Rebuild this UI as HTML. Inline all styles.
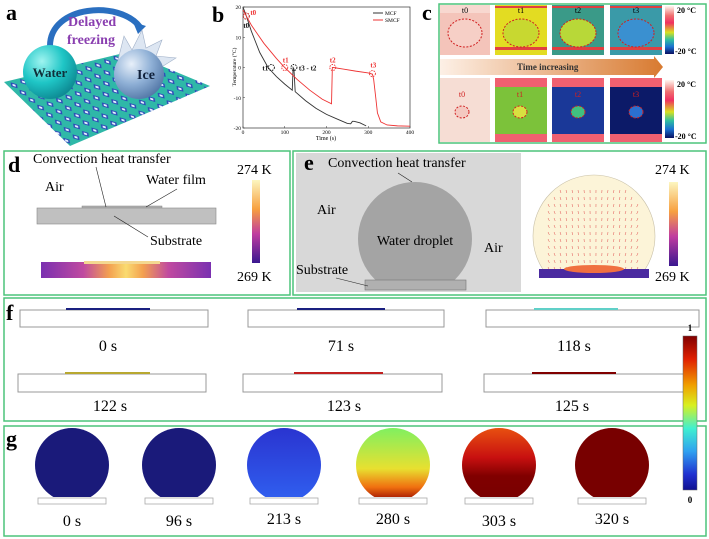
<!DOCTYPE html>
<html><head><meta charset="utf-8"><style>
html,body{margin:0;padding:0;background:#fff}
svg{display:block}
text{font-family:"Liberation Serif",serif}
</style></head><body>
<svg id="fig" width="709" height="539" viewBox="0 0 709 539" xmlns="http://www.w3.org/2000/svg">
<defs>
<pattern id="surf" width="10" height="10" patternUnits="userSpaceOnUse" patternTransform="rotate(-20) skewX(30)">
<rect width="10" height="10" fill="#2fb8a8"/>
<polygon points="5,1 8,5 5,9 2,5" fill="#2c48b8"/>
<polygon points="5,3 6.5,5 5,7 3.5,5" fill="#e8f4ff"/>
</pattern>
<radialGradient id="water" cx="0.35" cy="0.3" r="0.8"><stop offset="0" stop-color="#9ff4f0"/><stop offset="0.5" stop-color="#1fc6c6"/><stop offset="1" stop-color="#0a7f8a"/></radialGradient>
<radialGradient id="ice" cx="0.35" cy="0.3" r="0.8"><stop offset="0" stop-color="#e8f0fa"/><stop offset="0.5" stop-color="#8fb0d6"/><stop offset="1" stop-color="#4a6fa0"/></radialGradient>
<linearGradient id="cbarc" x1="0" y1="0" x2="0" y2="1"><stop offset="0" stop-color="#fff6f0"/><stop offset="0.2" stop-color="#f07070"/><stop offset="0.35" stop-color="#f03060"/><stop offset="0.55" stop-color="#d8e020"/><stop offset="0.7" stop-color="#30c0a0"/><stop offset="0.85" stop-color="#1a70d0"/><stop offset="1" stop-color="#0a1060"/></linearGradient>
<linearGradient id="arrowg" x1="0" y1="0" x2="1" y2="0"><stop offset="0" stop-color="#fdf0e6"/><stop offset="1" stop-color="#d87a30"/></linearGradient>
<linearGradient id="plasma" x1="0" y1="0" x2="0" y2="1"><stop offset="0" stop-color="#fcf6c0"/><stop offset="0.35" stop-color="#f7a040"/><stop offset="0.65" stop-color="#c03ca0"/><stop offset="1" stop-color="#3a1890"/></linearGradient>
<linearGradient id="heatd" x1="0" y1="0" x2="1" y2="0"><stop offset="0" stop-color="#7a30b0"/><stop offset="0.25" stop-color="#c04aa0"/><stop offset="0.4" stop-color="#f3a050"/><stop offset="0.5" stop-color="#fadb70"/><stop offset="0.6" stop-color="#f3a050"/><stop offset="0.75" stop-color="#c04aa0"/><stop offset="1" stop-color="#7a30b0"/></linearGradient>
<linearGradient id="jet" x1="0" y1="0" x2="0" y2="1"><stop offset="0" stop-color="#800000"/><stop offset="0.15" stop-color="#e02000"/><stop offset="0.32" stop-color="#f0a000"/><stop offset="0.45" stop-color="#d8f020"/><stop offset="0.6" stop-color="#40f0d0"/><stop offset="0.75" stop-color="#30a0f0"/><stop offset="0.9" stop-color="#2030d0"/><stop offset="1" stop-color="#101090"/></linearGradient>
<linearGradient id="g3" x1="0" y1="0" x2="0" y2="1"><stop offset="0" stop-color="#2a34d0"/><stop offset="1" stop-color="#3060f0"/></linearGradient>
<linearGradient id="g4" x1="0" y1="0" x2="0" y2="1"><stop offset="0" stop-color="#80f060"/><stop offset="0.55" stop-color="#e8e030"/><stop offset="0.8" stop-color="#f07010"/><stop offset="1" stop-color="#900000"/></linearGradient>
<linearGradient id="g5" x1="0" y1="0" x2="0" y2="1"><stop offset="0" stop-color="#e85010"/><stop offset="0.4" stop-color="#c81010"/><stop offset="0.65" stop-color="#800000"/><stop offset="1" stop-color="#780000"/></linearGradient>
<clipPath id="dropclip"><rect x="0" y="420" width="709" height="77"/></clipPath>
<clipPath id="eclip"><rect x="520" y="150" width="140" height="119"/></clipPath>
<clipPath id="eclipL"><rect x="296" y="150" width="225" height="130"/></clipPath>
</defs>

<!-- Panel a -->
<g>
<polygon points="4,82 128,52 210,86 70,146" fill="url(#surf)"/>
<path d="M50,46 C50,5 120,0 140,27" fill="none" stroke="#2a6fc0" stroke-width="6"/>
<polygon points="133,22 146,26 138,34" fill="#2a6fc0"/>
<text x="68" y="26" font-size="14" font-weight="bold" fill="#8a3fb0">Delayed</text>
<text x="67" y="44" font-size="14" font-weight="bold" fill="#8a3fb0">freezing</text>
<circle cx="50" cy="72" r="27" fill="url(#water)"/>
<text x="50" y="77" font-size="13" font-weight="bold" text-anchor="middle" fill="#10303a">Water</text>
<polygon points="118,60 124,36 132,50 142,30 146,48 162,40 156,56 176,58 160,68 118,68" fill="#dde6f2" stroke="#a0b0c8" stroke-width="0.6"/>
<circle cx="139" cy="74" r="25" fill="url(#ice)"/>
<text x="146" y="79" font-size="14" font-weight="bold" text-anchor="middle" fill="#10203a">Ice</text>
<text x="6" y="20" font-size="22" font-weight="bold">a</text>
</g>

<!-- Panel b -->
<g id="chart">
<text x="212" y="22" font-size="22" font-weight="bold">b</text>
<text transform="translate(236,67) rotate(-90)" font-size="5.5" text-anchor="middle">Temperature (°C)</text>
<text x="326" y="140" font-size="6" text-anchor="middle">Time (s)</text>
<line x1="373" y1="13" x2="383" y2="13" stroke="#333" stroke-width="1"/>
<text x="385" y="15" font-size="5.5">MCF</text>
<line x1="373" y1="20" x2="383" y2="20" stroke="#e33" stroke-width="1"/>
<text x="385" y="22" font-size="5.5">SMCF</text>
</g>

<!-- Panel c -->
<g>
<rect x="439" y="4" width="267" height="139" fill="none" stroke="#4cc47a" stroke-width="1.5"/>
<text x="422" y="20" font-size="22" font-weight="bold">c</text>
<rect x="440" y="5" width="50" height="50" fill="#f4c4ba"/><rect x="440" y="5" width="50" height="8" fill="#f8d8d0"/>
<ellipse cx="465" cy="33" rx="17" ry="14" fill="#f6cfc6" stroke="#d02020" stroke-dasharray="2,1.5"/>
<text x="465" y="13" font-size="8" text-anchor="middle">t0</text>
<rect x="495" y="5" width="52" height="50" fill="#e3dc22"/><rect x="495" y="6" width="52" height="2" fill="#e04040"/><rect x="495" y="47" width="52" height="3" fill="#e04040"/>
<ellipse cx="521" cy="33" rx="18" ry="14" fill="#c8d830" stroke="#d02020" stroke-dasharray="2,1.5"/>
<text x="521" y="13" font-size="8" text-anchor="middle">t1</text>
<rect x="552" y="5" width="52" height="50" fill="#3a9a88"/><rect x="552" y="6" width="52" height="2" fill="#e04040"/><rect x="552" y="47" width="52" height="3" fill="#e04040"/>
<ellipse cx="578" cy="33" rx="18" ry="14" fill="#b8d838" stroke="#d02020" stroke-dasharray="2,1.5"/>
<text x="578" y="13" font-size="8" text-anchor="middle">t2</text>
<rect x="610" y="5" width="52" height="50" fill="#3a9aa8"/><rect x="610" y="6" width="52" height="2" fill="#e04040"/><rect x="610" y="47" width="52" height="3" fill="#e04040"/>
<ellipse cx="636" cy="33" rx="18" ry="14" fill="#3a90d0" stroke="#d02020" stroke-dasharray="2,1.5"/>
<text x="636" y="13" font-size="8" text-anchor="middle">t3</text>
<rect x="665" y="6" width="9" height="48" fill="url(#cbarc)"/>
<text x="677" y="13" font-size="8" font-weight="bold">20 °C</text>
<text x="675" y="54" font-size="8" font-weight="bold">-20 °C</text>
<polygon points="440,59 654,59 654,56 663,67 654,78 654,75 440,75" fill="url(#arrowg)"/>
<text x="517" y="70" font-size="9" font-weight="bold" fill="#333">Time increasing</text>
<rect x="440" y="78" width="50" height="64" fill="#f6ddd4"/>
<ellipse cx="462" cy="112" rx="7" ry="6" fill="#f4c8c0" stroke="#d02020" stroke-dasharray="2,1.5"/>
<text x="462" y="97" font-size="8" text-anchor="middle" fill="#d02020">t0</text>
<rect x="495" y="78" width="52" height="64" fill="#7cc23a"/><rect x="495" y="78" width="52" height="9" fill="#f06070"/><rect x="495" y="134" width="52" height="8" fill="#f06070"/>
<ellipse cx="520" cy="112" rx="7" ry="6" fill="#d8e040" stroke="#d02020" stroke-dasharray="2,1.5"/>
<text x="520" y="97" font-size="8" text-anchor="middle" fill="#d02020">t1</text>
<rect x="552" y="78" width="52" height="64" fill="#1a3898"/><rect x="552" y="78" width="52" height="9" fill="#f06070"/><rect x="552" y="134" width="52" height="8" fill="#f06070"/>
<ellipse cx="578" cy="112" rx="7" ry="6" fill="#40c080" stroke="#d02020" stroke-dasharray="2,1.5"/>
<text x="578" y="97" font-size="8" text-anchor="middle" fill="#d02020">t2</text>
<rect x="610" y="78" width="52" height="64" fill="#0c1a68"/><rect x="610" y="78" width="52" height="9" fill="#f06070"/><rect x="610" y="134" width="52" height="8" fill="#f06070"/>
<ellipse cx="636" cy="112" rx="7" ry="6" fill="#2a70d0" stroke="#d02020" stroke-dasharray="2,1.5"/>
<text x="636" y="97" font-size="8" text-anchor="middle" fill="#d02020">t3</text>
<rect x="665" y="80" width="9" height="58" fill="url(#cbarc)"/>
<text x="677" y="87" font-size="8" font-weight="bold">20 °C</text>
<text x="675" y="139" font-size="8" font-weight="bold">-20 °C</text>
</g>

<!-- Panel d -->
<g>
<rect x="4" y="151" width="286" height="144" fill="none" stroke="#4cc47a" stroke-width="1.5"/>
<text x="8" y="172" font-size="22" font-weight="bold">d</text>
<text x="33" y="163" font-size="14">Convection heat transfer</text>
<text x="45" y="191" font-size="14">Air</text>
<text x="146" y="184" font-size="14">Water film</text>
<rect x="82" y="206" width="80" height="3" fill="#b0b0b0" stroke="#888" stroke-width="0.5"/>
<rect x="37" y="208" width="179" height="16" fill="#c0c0c0" stroke="#888" stroke-width="0.6"/>
<line x1="106" y1="207" x2="96" y2="167" stroke="#222" stroke-width="0.6"/>
<line x1="146" y1="207" x2="177" y2="189" stroke="#222" stroke-width="0.6"/>
<line x1="114" y1="216" x2="148" y2="237" stroke="#222" stroke-width="0.6"/>
<text x="150" y="245" font-size="14">Substrate</text>
<rect x="41" y="262" width="170" height="16" fill="url(#heatd)"/>
<rect x="84" y="261" width="76" height="3" fill="#f4d890"/>
<rect x="252" y="180" width="8" height="83" fill="url(#plasma)"/>
<text x="237" y="174" font-size="14">274 K</text>
<text x="237" y="281" font-size="14">269 K</text>
</g>

<!-- Panel e -->
<g>
<rect x="293" y="151" width="413" height="144" fill="none" stroke="#4cc47a" stroke-width="1.5"/>
<rect x="296" y="153" width="225" height="139" fill="#d8d8d8"/>
<text x="304" y="170" font-size="22" font-weight="bold">e</text>
<text x="328" y="167" font-size="14">Convection heat transfer</text>
<circle cx="415" cy="239" r="57" fill="#a4a4a4" clip-path="url(#eclipL)"/>
<rect x="365" y="280" width="101" height="10" fill="#b0b0b0" stroke="#777" stroke-width="0.6"/>
<line x1="412" y1="182" x2="398" y2="173" stroke="#222" stroke-width="0.6"/>
<text x="317" y="214" font-size="14">Air</text>
<text x="415" y="245" font-size="14" text-anchor="middle">Water droplet</text>
<text x="484" y="252" font-size="14">Air</text>
<text x="296" y="274" font-size="14">Substrate</text>
<line x1="368" y1="286" x2="336" y2="278" stroke="#222" stroke-width="0.6"/>
<g clip-path="url(#eclip)">
<circle cx="594" cy="236" r="61" fill="#fcf4d8" stroke="#c8c0a8" stroke-width="0.6"/>
</g>
<g id="vecs" stroke="#e05050" stroke-width="0.5"></g>
<rect x="539" y="269" width="110" height="9" fill="#4a2aa0"/>
<ellipse cx="594" cy="269" rx="30" ry="4" fill="#f07040"/>
<rect x="669" y="182" width="9" height="84" fill="url(#plasma)"/>
<text x="655" y="174" font-size="14">274 K</text>
<text x="655" y="281" font-size="14">269 K</text>
</g>

<!-- Panel f -->
<g>
<rect x="4" y="298" width="702" height="123" fill="none" stroke="#4cc47a" stroke-width="1.5"/>
<text x="6" y="320" font-size="22" font-weight="bold">f</text>
<rect x="20" y="310" width="188" height="17" fill="#fff" stroke="#999"/><rect x="66" y="308" width="84" height="2" fill="#1a2080"/>
<text x="108" y="351" font-size="16" text-anchor="middle">0 s</text>
<rect x="248" y="310" width="196" height="17" fill="#fff" stroke="#999"/><rect x="297" y="308" width="88" height="2" fill="#1a2080"/>
<text x="341" y="351" font-size="16" text-anchor="middle">71 s</text>
<rect x="486" y="310" width="213" height="17" fill="#fff" stroke="#999"/><rect x="534" y="308" width="84" height="2" fill="#60d0c8"/>
<text x="574" y="351" font-size="16" text-anchor="middle">118 s</text>
<rect x="18" y="374" width="188" height="18" fill="#fff" stroke="#999"/><rect x="65" y="372" width="85" height="2" fill="#b8a830"/>
<text x="110" y="411" font-size="16" text-anchor="middle">122 s</text>
<rect x="243" y="374" width="199" height="18" fill="#fff" stroke="#999"/><rect x="294" y="372" width="89" height="2" fill="#c02020"/>
<text x="344" y="411" font-size="16" text-anchor="middle">123 s</text>
<rect x="484" y="374" width="202" height="18" fill="#fff" stroke="#999"/><rect x="532" y="372" width="84" height="2" fill="#800000"/>
<text x="572" y="411" font-size="16" text-anchor="middle">125 s</text>
</g>

<!-- Panel g -->
<g>
<rect x="4" y="426" width="702" height="110" fill="none" stroke="#4cc47a" stroke-width="1.5"/>
<text x="6" y="446" font-size="22" font-weight="bold">g</text>
<g clip-path="url(#dropclip)">
<ellipse cx="72" cy="465" rx="37" ry="37" fill="#1a1a7a"/>
<ellipse cx="179" cy="465" rx="37" ry="37" fill="#1a1a7a"/>
<ellipse cx="284" cy="465" rx="37" ry="37" fill="url(#g3)"/>
<ellipse cx="393" cy="465" rx="37" ry="37" fill="url(#g4)"/>
<ellipse cx="499" cy="465" rx="37" ry="37" fill="url(#g5)"/>
<ellipse cx="612" cy="465" rx="37" ry="37" fill="#780000"/>
</g>
<g fill="#fff" stroke="#aaa" stroke-width="0.8">
<rect x="38" y="498" width="68" height="6"/><rect x="145" y="498" width="68" height="6"/><rect x="250" y="498" width="68" height="6"/>
<rect x="359" y="498" width="68" height="6"/><rect x="465" y="498" width="68" height="6"/><rect x="578" y="498" width="68" height="6"/>
</g>
<g font-size="16" text-anchor="middle">
<text x="72" y="526">0 s</text><text x="179" y="526">96 s</text><text x="284" y="524">213 s</text>
<text x="393" y="524">280 s</text><text x="499" y="526">303 s</text><text x="612" y="524">320 s</text>
</g>
</g>

<!-- shared colorbar -->
<rect x="683" y="336" width="14" height="154" fill="url(#jet)" stroke="#666" stroke-width="0.5"/>
<text x="690" y="331" font-size="9" font-weight="bold" font-family="Liberation Sans,sans-serif" text-anchor="middle">1</text>
<text x="690" y="503" font-size="9" font-weight="bold" font-family="Liberation Sans,sans-serif" text-anchor="middle">0</text>
</svg>
<script>
const mcfTime=[0,8,20,40,60,80,100,118,120,122,125,150,175,200,225,250,258,262,266,280,295];
const mcfTemp=[20,17,12,5,0,-3,-5.5,-7.5,0,-0.5,-8,-11,-13.5,-15.5,-17,-18.5,-18.6,-17.8,-17.8,-18.3,-19.3];
const smcfTime=[0,8,20,50,80,100,130,160,190,212,214,216,240,270,300,310,313,318,322,330,345,370,400];
const smcfTemp=[19,17,14,8,3,0,-4,-7.5,-10.5,-12,0,0,-0.5,-1.2,-1.8,-2.2,-4,-10,-15,-18,-19,-19.3,-19.4];
const xTicks=[0,100,200,300,400];
const yTicks=[-20,-10,0,10,20];
const mcfMarkTime=[8,68,122];
const mcfMarkTemp=[17,0,0];
const smcfMarkTime=[8,100,215,310];
const smcfMarkTemp=[17,0,0,-2];
const NS='http://www.w3.org/2000/svg';
const X0=243,X1=410,Y0=128,Y1=7;
function xs(t){return X0+(t-0)/400*(X1-X0);}
function ys(v){return Y0-(v+20)/40*(Y0-Y1);}
const g=document.getElementById('chart');
function mk(tag,a){const e=document.createElementNS(NS,tag);for(const k in a)e.setAttribute(k,a[k]);g.appendChild(e);return e;}
const frame=mk('rect',{x:X0,y:Y1,width:X1-X0,height:Y0-Y1,fill:'none',stroke:'#333','stroke-width':0.7});


xTicks.forEach(t=>{mk('line',{x1:xs(t),y1:Y0,x2:xs(t),y2:Y0-2,stroke:'#333','stroke-width':0.5});
const l=mk('text',{x:xs(t),y:Y0+6,'font-size':5.5,'text-anchor':'middle'});l.textContent=t;

});
yTicks.forEach(v=>{mk('line',{x1:X0,y1:ys(v),x2:X0+2,y2:ys(v),stroke:'#333','stroke-width':0.5});
const l=mk('text',{x:X0-2,y:ys(v)+2,'font-size':5.5,'text-anchor':'end'});l.textContent=v;

});
function line(ts,vs,c,name){const p=mk('polyline',{points:ts.map((t,i)=>xs(t)+','+ys(vs[i])).join(' '),fill:'none',stroke:c,'stroke-width':0.9});

}
line(mcfTime,mcfTemp,'#333','mcf-line');
line(smcfTime,smcfTemp,'#e33','smcf-line');
function marks(ts,vs,c,lbls,dx,dy,name){ts.forEach((t,i)=>{const m=mk('circle',{cx:xs(t),cy:ys(vs[i]),r:3,fill:'none',stroke:c,'stroke-width':0.9,'stroke-dasharray':'1.5,1'});


const l=mk('text',{x:xs(t)+dx[i],y:ys(vs[i])+dy[i],'font-size':7,'font-weight':'bold',fill:c});l.textContent=lbls[i];});}
marks(mcfMarkTime,mcfMarkTemp,'#111',['t0','t1','t3 - t2'],[-3,-9,5],[12,3,3],'mcf-marker');
marks(smcfMarkTime,smcfMarkTemp,'#e33',['t0','t1','t2','t3'],[4,-2,-3,-2],[-1,-5,-5,-6],'smcf-marker');
const vg=document.getElementById('vecs');
for(let x=548;x<=642;x+=6){for(let y=190;y<=276;y+=7){const dx=x-594,dy=y-236;if(dx*dx+dy*dy>58*58)continue;
const l=document.createElementNS(NS,'line');l.setAttribute('x1',x);l.setAttribute('y1',y);l.setAttribute('x2',x-dx*0.03);l.setAttribute('y2',y+3);vg.appendChild(l);}}
</script>
</body></html>
